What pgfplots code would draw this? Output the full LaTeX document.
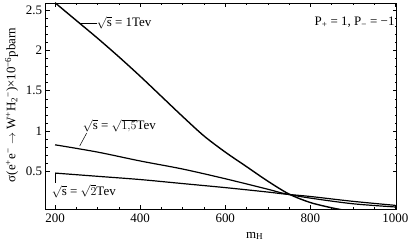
\documentclass[border=0pt]{standalone}
\usepackage{fontspec}
\setmainfont{Liberation Serif}
\usepackage{pgfplots}
\pgfplotsset{compat=1.18}
\begin{document}
\begin{tikzpicture}[x=1bp,y=1bp]
\useasboundingbox (-45.7,-37) rectangle (363.3,209);
\begin{axis}[scale only axis, width=351bp, height=206bp, at={(0,0)}, anchor=south west,
  xmin=178, xmax=1003, ymin=0.035, ymax=2.587,
  xtick={200,400,600,800,1000}, ytick={0.5,1,1.5,2,2.5},
  yticklabels={0.5,1,1.5,2,2.5},
  minor x tick num=3, minor y tick num=4,
  tick align=inside, major tick length=4bp, minor tick length=2bp,
  tick style={black, line width=0.5pt},
  axis line style={line width=0.7pt},
  /pgf/number format/assume math mode=true,
  /pgf/number format/1000 sep={},
  ticklabel style={font=\fontsize{13}{15}\selectfont},
  xticklabel style={yshift=-1bp},
  scaled ticks=false,
  clip=true]
\addplot[black, line width=1.4pt, smooth] coordinates {(200,2.59)(250,2.37)(300,2.15)(350,1.92)(400,1.68)(450,1.43)(500,1.18)(550,0.94)(600,0.74)(650,0.56)(700,0.38)(750,0.22)(800,0.115)(850,0.05)(880,0.02)};
\addplot[black, line width=1.2pt, smooth] coordinates {(200,0.83)(300,0.74)(400,0.63)(500,0.53)(600,0.41)(700,0.28)(740,0.225)(800,0.17)(900,0.10)(1000,0.06)};
\addplot[black, line width=1.2pt, smooth] coordinates {(200,0.48)(300,0.44)(400,0.40)(500,0.35)(600,0.30)(700,0.245)(740,0.22)(800,0.19)(900,0.13)(1000,0.08)};
\end{axis}
\begin{scope}[font=\fontsize{13}{15}\selectfont]
\draw[line width=0.5pt] (34.3,186) -- (51,186);
\node[anchor=west, inner sep=0pt] at (51,186) {$\sqrt{\mathrm{s}}$ = 1Tev};
\draw[line width=0.5pt] (34,63) -- (41,76);
\node[anchor=west, inner sep=0pt] at (37,83) {$\sqrt{\mathrm{s}}$ = $\sqrt{1{,}5}$Tev};
\draw[line width=0.5pt] (10,36) -- (10,26);
\node[anchor=west, inner sep=0pt] at (6,18) {$\sqrt{\mathrm{s}}$ = $\sqrt{2}$Tev};
\node[anchor=east, inner sep=0pt] at (349,187) {P\textsubscript{+} = 1, P\textsubscript{−} = −1};
\node at (209,-27) {m\textsubscript{H}};
\node[rotate=90] at (-34,104) {σ(e\textsuperscript{+}e\textsuperscript{−} $\rightarrow$ W\textsuperscript{+}H\textsubscript{2}\textsuperscript{−})×10\textsuperscript{−6}pbarn};
\end{scope}
\end{tikzpicture}
\end{document}
